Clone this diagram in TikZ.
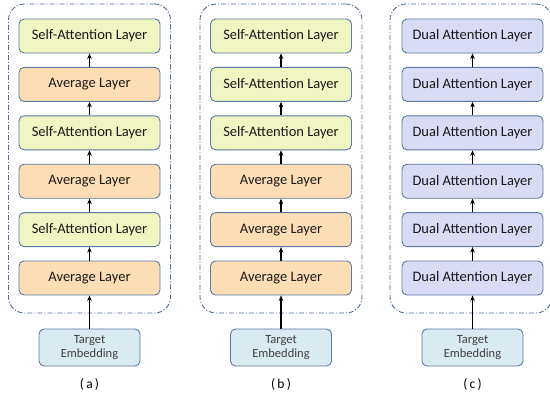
\documentclass[tikz,border=0pt]{standalone}
\usepackage{fontspec}
\setmainfont{Carlito}
\usetikzlibrary{arrows.meta}
\definecolor{saFill}{HTML}{F0F5C2}
\definecolor{avFill}{HTML}{FDDDB3}
\definecolor{duFill}{HTML}{D9DCF4}
\definecolor{teFill}{HTML}{DAEAF1}
\definecolor{bordC}{HTML}{5B78A6}
\definecolor{frameC}{HTML}{4F6A96}
\definecolor{teText}{HTML}{404040}
\begin{document}
\begin{tikzpicture}[x=1pt,y=-1pt,
  layer/.style={draw=bordC, line width=0.9pt, rounded corners=5pt, minimum width=141pt, minimum height=34pt, inner sep=0pt, text=black!90, font=\fontsize{14.5}{16}\selectfont},
  sa/.style={layer, fill=saFill},
  av/.style={layer, fill=avFill},
  du/.style={layer, fill=duFill},
  te/.style={draw=bordC, line width=0.9pt, rounded corners=5pt, fill=teFill, minimum width=101pt, minimum height=37pt, inner sep=0pt, align=center, text=teText, font=\fontsize{12.5}{14.5}\selectfont},
  panelframe/.style={draw=frameC, line width=0.9pt, rounded corners=16pt, dash pattern=on 5pt off 2pt on 1pt off 2pt, minimum width=162pt, minimum height=309pt, inner sep=0pt},
  arr/.style={-{Stealth[length=5.5pt,width=4.5pt]}, line width=1.3pt, black},
  captxt/.style={font=\fontsize{13.5}{15}\selectfont}]
\useasboundingbox (0,0) rectangle (550,397);
% frames
\node[panelframe] (fa) at (89.5,158.5) {};
\node[panelframe] (fb) at (281,158.5) {};
\node[panelframe] (fc) at (471,158.5) {};
% panel a
\node[sa] (a1) at (89.5,36) {Self-Attention Layer};
\node[av] (a2) at (89.5,84.4) {Average Layer};
\node[sa] (a3) at (89.5,132.8) {Self-Attention Layer};
\node[av] (a4) at (89.5,181.2) {Average Layer};
\node[sa] (a5) at (89.5,229.6) {Self-Attention Layer};
\node[av] (a6) at (89.5,278) {Average Layer};
\node[te] (at) at (89.5,347.5) {Target\\Embedding};
% panel b
\node[sa] (b1) at (281,36) {Self-Attention Layer};
\node[sa] (b2) at (281,84.4) {Self-Attention Layer};
\node[sa] (b3) at (281,132.8) {Self-Attention Layer};
\node[av] (b4) at (281,181.2) {Average Layer};
\node[av] (b5) at (281,229.6) {Average Layer};
\node[av] (b6) at (281,278) {Average Layer};
\node[te] (bt) at (281,347.5) {Target\\Embedding};
% panel c
\node[du] (c1) at (472.5,36) {Dual Attention Layer};
\node[du] (c2) at (472.5,84.4) {Dual Attention Layer};
\node[du] (c3) at (472.5,132.8) {Dual Attention Layer};
\node[du] (c4) at (472.5,181.2) {Dual Attention Layer};
\node[du] (c5) at (472.5,229.6) {Dual Attention Layer};
\node[du] (c6) at (472.5,278) {Dual Attention Layer};
\node[te] (ct) at (472.5,347.5) {Target\\Embedding};
% arrows
\foreach \p in {a,b,c}{
  \draw[arr] (\p t.north) -- (\p 6.south);
  \draw[arr] (\p 6.north) -- (\p 5.south);
  \draw[arr] (\p 5.north) -- (\p 4.south);
  \draw[arr] (\p 4.north) -- (\p 3.south);
  \draw[arr] (\p 3.north) -- (\p 2.south);
  \draw[arr] (\p 2.north) -- (\p 1.south);
}
% captions
\node[captxt] (la) at (89.5,384) {(\,a\,)};
\node[captxt] (lb) at (281,384) {(\,b\,)};
\node[captxt] (lc) at (472.5,384) {(\,c\,)};
\end{tikzpicture}
\end{document}
